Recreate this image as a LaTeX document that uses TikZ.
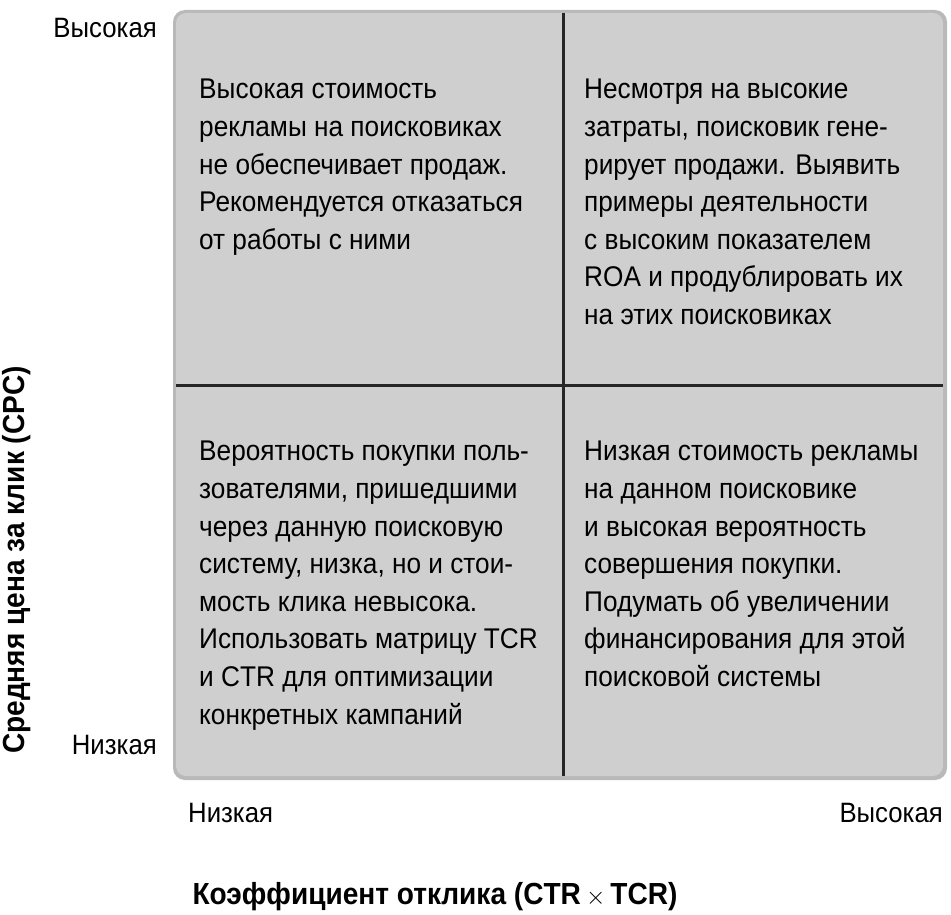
\documentclass[tikz,border=0pt]{standalone}
\usepackage{fontspec}
\setmainfont{Liberation Sans}[FakeStretch=0.92]
\begin{document}
\begin{tikzpicture}[x=1pt,y=-1pt,
  qtext/.style={anchor=north west,align=left,font=\fontsize{28.5}{37.6}\selectfont,inner sep=0pt},
  axlab/.style={font=\fontsize{28}{30}\selectfont,inner sep=0pt},
  axtitle/.style={font=\bfseries\fontsize{30.5}{32}\selectfont,inner sep=0pt}]
\useasboundingbox (0,0) rectangle (951,915);
\fill[gray!55,rounded corners=12pt] (173,10) rectangle (947,780);
\fill[gray!38,rounded corners=10pt] (176,13) rectangle (943,776);
\node[coordinate] (tc) at (563,13) {};
\node[coordinate] (bc) at (563,776) {};
\node[coordinate] (lc) at (176,385) {};
\node[coordinate] (rc) at (943,385) {};
\draw[line width=3pt,black!85] (tc) -- (bc);
\draw[line width=3pt,black!85] (lc) -- (rc);
\node[qtext] (q1) at (199,79) {Высокая стоимость\\рекламы на поисковиках\\не обеспечивает продаж.\\Рекомендуется отказаться\\от работы с ними};
\node[qtext] (q2) at (584,79) {Несмотря на высокие\\затраты, поисковик гене-\\рирует продажи. Выявить\\примеры деятельности\\с высоким показателем\\ROA и продублировать их\\на этих поисковиках};
\node[qtext] (q3) at (199,441) {Вероятность покупки поль-\\зователями, пришедшими\\через данную поисковую\\систему, низка, но и стои-\\мость клика невысока.\\Использовать матрицу TCR\\и CTR для оптимизации\\конкретных кампаний};
\node[qtext] (q4) at (584,441) {Низкая стоимость рекламы\\на данном поисковике\\и высокая вероятность\\совершения покупки.\\Подумать об увеличении\\финансирования для этой\\поисковой системы};
\node[axlab,anchor=east] (yh) at (157,28) {Высокая};
\node[axlab,anchor=east] (yl) at (157,745) {Низкая};
\node[axlab,anchor=west] (xl) at (188,813) {Низкая};
\node[axlab,anchor=east] (xh) at (943,813) {Высокая};
\node[axtitle] (xt) at (435,897) {Коэффициент отклика (CTR\,$\times$\,TCR)};
\node[axtitle,rotate=90] (yt) at (17,560) {Средняя цена за клик (CPC)};
\end{tikzpicture}
\end{document}
